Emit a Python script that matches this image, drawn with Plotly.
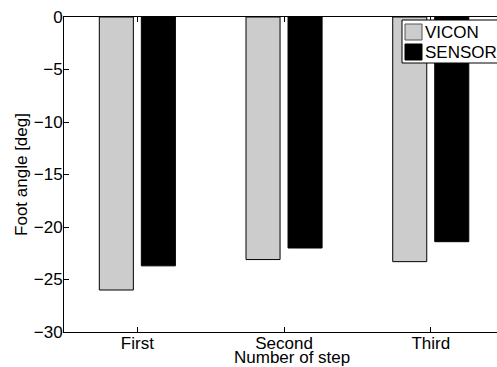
import plotly.graph_objects as go

steps = ["First", "Second", "Third"]
step_pos = [1, 2, 3]
vicon = [-26.0, -23.1, -23.3]
sensor = [-23.7, -22.0, -21.4]
y_ticks = [0, -5, -10, -15, -20, -25, -30]
y_tick_text = ["0", "\u22125", "\u221210", "\u221215", "\u221220", "\u221225", "\u221230"]
series_names = ["VICON", "SENSOR"]
series_colors = ["#cccccc", "#000000"]
x_title = "Number of step"
y_title = "Foot angle [deg]"

fam = "Liberation Sans, Arial, sans-serif"
FS = 17

fig = go.Figure()
for name, vals, col in zip(series_names, [vicon, sensor], series_colors):
    fig.add_trace(go.Bar(x=step_pos, y=vals, name=name, showlegend=False,
                         marker=dict(color=col, line=dict(color="#000000", width=1))))

# plot area in pixels: x 64..497, y 17..332
def px(x):
    return (x - 64) / 433
def py(y):
    return (332 - y) / 315

shapes = [dict(type="rect", xref="paper", yref="paper",
               x0=px(402), x1=px(520), y0=py(63), y1=py(20),
               fillcolor="white", line=dict(color="black", width=1), layer="above")]
annotations = []
for i, (name, col) in enumerate(zip(series_names, series_colors)):
    cy = 32 + 20 * i
    shapes.append(dict(type="rect", xref="paper", yref="paper",
                       x0=px(405), x1=px(422), y0=py(cy + 8), y1=py(cy - 8),
                       fillcolor=col, line=dict(color="#555555" if i == 0 else "black", width=1),
                       layer="above"))
    annotations.append(dict(text=name, xref="paper", yref="paper", x=px(423), y=py(cy),
                            xanchor="left", yanchor="middle", showarrow=False,
                            font=dict(family=fam, size=FS, color="black")))

font = dict(family=fam, size=FS, color="black")
annotations.append(dict(text=x_title, xref="paper", yref="paper", x=px(292), y=py(357),
                        xanchor="center", yanchor="middle", showarrow=False, font=font))

fig.update_layout(
    width=497, height=367,
    margin=dict(l=64, r=0, t=17, b=35),
    paper_bgcolor="white", plot_bgcolor="white",
    font=font,
    barmode="group", bargap=0.427, bargroupgap=0.19,
    shapes=shapes, annotations=annotations,
    xaxis=dict(range=[0.5, 0.5 + 433 / 146.7], tickvals=step_pos, ticktext=steps,
               tickfont=font, automargin=False, ticklabelstandoff=-4,
               showline=True, linecolor="black", linewidth=1, mirror="ticks",
               ticks="inside", ticklen=5, tickcolor="black", showgrid=False, zeroline=False),
    yaxis=dict(range=[-30, 0], tickvals=y_ticks, ticktext=y_tick_text,
               tickfont=font, automargin=False, ticklabelstandoff=-3,
               showline=True, linecolor="black", linewidth=1,
               ticks="inside", ticklen=5, tickcolor="black", showgrid=False, zeroline=False,
               title=dict(text=y_title, standoff=1, font=font)),
)
fig.write_html("out.html")
